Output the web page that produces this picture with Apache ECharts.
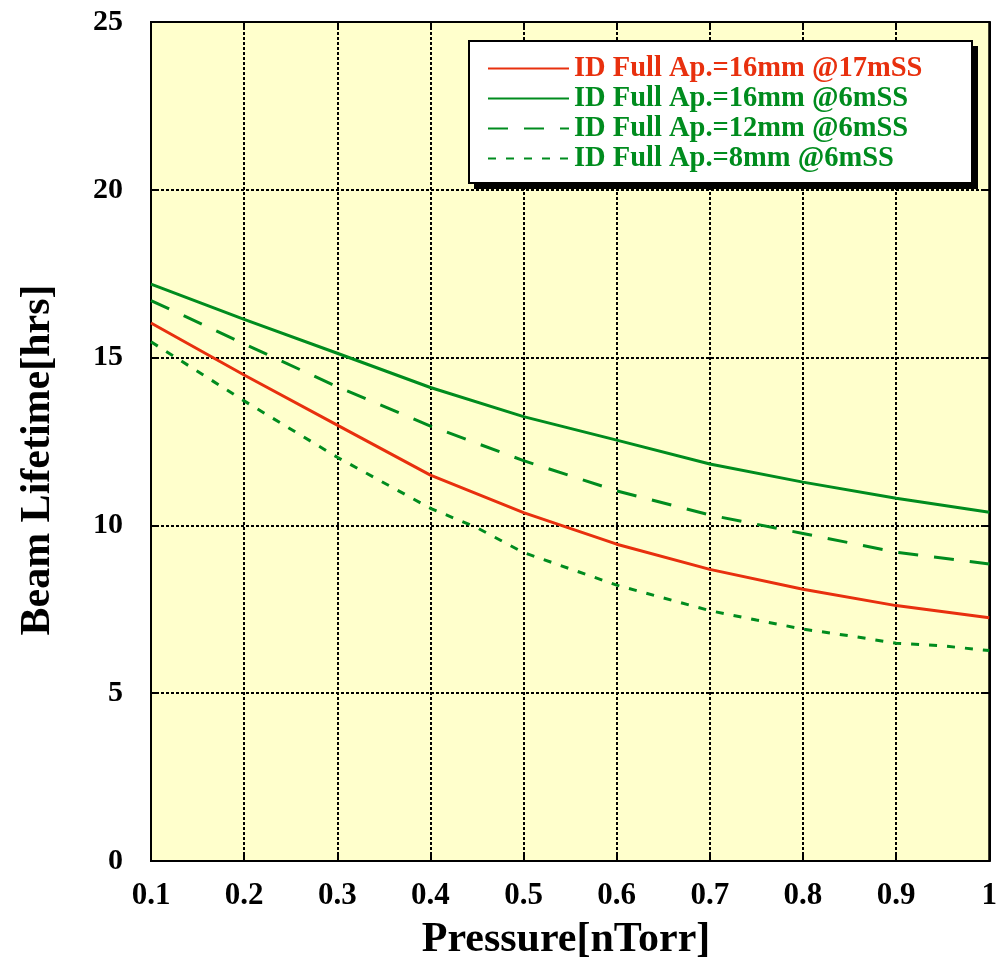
<!DOCTYPE html>
<html>
<head>
<meta charset="utf-8">
<script src="https://cdn.jsdelivr.net/npm/echarts@6/dist/echarts.min.js"></script>
<style>
html,body{margin:0;padding:0;background:#fff;}
#chart{width:1000px;height:965px;}
</style>
</head>
<body>
<div id="chart"></div>
<script>
// Data
var pressure = [0.1, 0.2, 0.3, 0.4, 0.5, 0.6, 0.7, 0.8, 0.9, 1.0];
var ap16_17mSS = [16.03, 14.48, 12.99, 11.50, 10.38, 9.44, 8.69, 8.10, 7.61, 7.25];
var ap16_6mSS = [17.19, 16.14, 15.13, 14.11, 13.24, 12.54, 11.83, 11.29, 10.81, 10.39];
var ap12_6mSS = [16.70, 15.41, 14.13, 12.96, 11.93, 11.03, 10.31, 9.76, 9.20, 8.85];
var pressure8 = [0.1, 0.2, 0.3, 0.4, 0.45, 0.5, 0.6, 0.7, 0.75, 0.8, 0.85, 0.9, 0.95, 1.0];
var ap8_6mSS = [15.47, 13.71, 12.03, 10.51, 9.93, 9.19, 8.22, 7.46, 7.18, 6.91, 6.71, 6.49, 6.41, 6.27];
var seriesNames = ['ID Full Ap.=16mm @17mSS', 'ID Full Ap.=16mm @6mSS', 'ID Full Ap.=12mm @6mSS', 'ID Full Ap.=8mm @6mSS'];
var xTitle = 'Pressure[nTorr]';
var yTitle = 'Beam Lifetime[hrs]';

var RED = '#E8300E';
var GREEN = '#008C1E';
var FONT = '"Liberation Serif", "DejaVu Serif", serif';

function pairs(xs, ys) { return xs.map(function (x, i) { return [x, ys[i]]; }); }

var chart = echarts.init(document.getElementById('chart'));

function frameAxis(pos, isX) {
  var a = {
    type: 'value', position: pos,
    axisLine: { show: true, onZero: false, lineStyle: { color: '#000', width: 2 } },
    axisTick: { show: true, inside: true, length: 8, lineStyle: { color: '#000', width: 2 } },
    splitLine: { show: false }, axisLabel: { show: false }
  };
  if (isX) { a.min = 0.1; a.max = 1; a.interval = 0.1; } else { a.min = 0; a.max = 25; a.interval = 5; }
  return a;
}

var xMain = frameAxis('bottom', true);
xMain.splitLine = { show: true, lineStyle: { color: '#000', width: 2, type: [3, 2] } };
xMain.axisLabel = {
  show: true, margin: 19, color: '#000', fontFamily: FONT, fontWeight: 'bold', fontSize: 31,
  formatter: function (v) { return String(Math.round(v * 10) / 10); }
};
var yMain = frameAxis('left', false);
yMain.splitLine = { show: true, lineStyle: { color: '#000', width: 2, type: [3, 2] } };
yMain.axisLabel = { show: true, margin: 28, color: '#000', fontFamily: FONT, fontWeight: 'bold', fontSize: 30 };

var option = {
  animation: false,
  backgroundColor: '#ffffff',
  grid: {
    left: 151, top: 22, right: 10, bottom: 104,
    show: true, backgroundColor: '#FFFFCC', borderColor: '#000', borderWidth: 2
  },
  xAxis: [xMain, frameAxis('top', true)],
  yAxis: [yMain, frameAxis('right', false)],
  graphic: [
    { type: 'rect', z: 90, shape: { x: 474, y: 46, width: 504, height: 143 }, style: { fill: '#000' } },
    { type: 'rect', z: 91, shape: { x: 469, y: 41, width: 503, height: 142 }, style: { fill: '#fff', stroke: '#000', lineWidth: 2 } },
    { type: 'text', z: 100, x: 566, y: 940,
      style: { text: xTitle, fill: '#000', font: 'bold 42px ' + FONT, textAlign: 'center', textVerticalAlign: 'middle' } },
    { type: 'text', z: 100, x: 38, y: 460, rotation: Math.PI / 2,
      style: { text: yTitle, fill: '#000', font: 'bold 42px ' + FONT, textAlign: 'center', textVerticalAlign: 'middle' } }
  ],
  legend: {
    z: 100, orient: 'vertical', left: 487, top: 50, itemWidth: 81, itemHeight: 2, itemGap: -7,
    padding: 0,
    itemStyle: { opacity: 0 },
    textStyle: { fontFamily: FONT, fontWeight: 'bold', fontSize: 28.5, lineHeight: 28, padding: [0, 0, 9, 0] },
    data: [
      { name: seriesNames[0], textStyle: { color: RED } },
      { name: seriesNames[1], textStyle: { color: GREEN } },
      { name: seriesNames[2], textStyle: { color: GREEN } },
      { name: seriesNames[3], textStyle: { color: GREEN } }
    ]
  },
  series: [
    { name: seriesNames[0], type: 'line', data: pairs(pressure, ap16_17mSS), symbol: 'none',
      lineStyle: { color: RED, width: 3 }, itemStyle: { color: RED } },
    { name: seriesNames[1], type: 'line', data: pairs(pressure, ap16_6mSS), symbol: 'none',
      lineStyle: { color: GREEN, width: 3 }, itemStyle: { color: GREEN } },
    { name: seriesNames[2], type: 'line', data: pairs(pressure, ap12_6mSS), symbol: 'none',
      lineStyle: { color: GREEN, width: 3, type: [20, 16] }, itemStyle: { color: GREEN } },
    { name: seriesNames[3], type: 'line', data: pairs(pressure8, ap8_6mSS), symbol: 'none',
      lineStyle: { color: GREEN, width: 3, type: [8, 10] }, itemStyle: { color: GREEN } }
  ]
};
chart.setOption(option);
</script>
</body>
</html>
